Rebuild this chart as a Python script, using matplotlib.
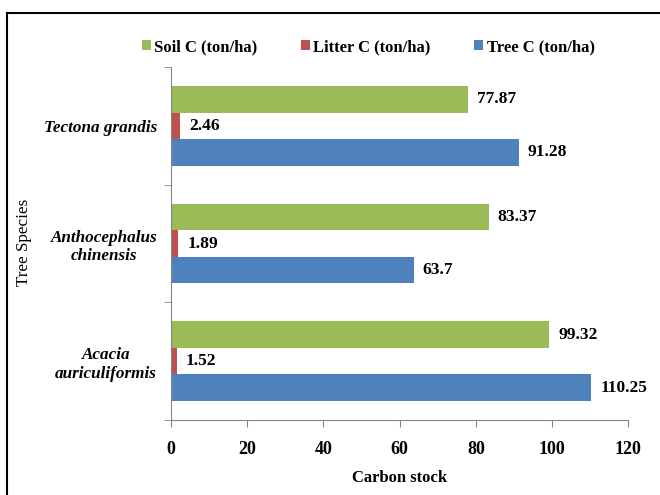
import matplotlib.pyplot as plt
import numpy as np
from matplotlib.lines import Line2D

species = ["Acacia\nauriculiformis", "Anthocephalus\nchinensis", "Tectona grandis"]
tree_c = [110.25, 63.7, 91.28]
litter_c = [1.52, 1.89, 2.46]
soil_c = [99.32, 83.37, 77.87]
tree_lbl = ["110.25", "63.7", "91.28"]
litter_lbl = ["1.52", "1.89", "2.46"]
soil_lbl = ["99.32", "83.37", "77.87"]

plt.rcParams["font.family"] = ["Liberation Serif", "DejaVu Serif"]

fig = plt.figure(figsize=(6.6, 4.95), dpi=100)
ax = fig.add_axes([0.259, 0.1515, 0.693, 0.713])

y = np.arange(len(species))
h = 0.225
series = [
    (soil_c, soil_lbl, "#9BBB59", "Soil C (ton/ha)", h),
    (litter_c, litter_lbl, "#C0504D", "Litter C (ton/ha)", 0),
    (tree_c, tree_lbl, "#4F81BD", "Tree C (ton/ha)", -h),
]
for vals, lbls, col, name, off in series:
    bars = ax.barh(y + off, vals, height=h, color=col, label=name)
    ax.bar_label(bars, labels=lbls, padding=6.5, fontsize=12.5, fontweight="bold")

ax.set_xlim(0, 120)
ax.set_ylim(-0.5, 2.5)
ax.set_xticks(np.arange(0, 121, 20))
ax.set_yticks(y)
ax.set_yticklabels(species, fontsize=12.3, fontweight="bold", style="italic",
                   multialignment="center")
ax.set_yticks([-0.5, 0.5, 1.5, 2.5], minor=True)
ax.tick_params(axis="y", which="major", length=0, pad=10)
ax.tick_params(axis="y", which="minor", length=5, color="#868686")
ax.tick_params(axis="x", length=5, color="#868686", pad=10, labelsize=13)
for t in ax.get_xticklabels():
    t.set_fontweight("bold")

for s in ["top", "right"]:
    ax.spines[s].set_visible(False)
for s in ["left", "bottom"]:
    ax.spines[s].set_color("#868686")

ax.set_xlabel("Carbon stock", fontsize=12, fontweight="bold", labelpad=9)
fig.text(0.036, 0.51, "Tree Species", rotation=90, fontsize=12.3,
         ha="center", va="center")

handles, labels = ax.get_legend_handles_labels()
fig.legend(handles, labels, loc="center", bbox_to_anchor=(0.558, 0.905), ncol=3,
           frameon=False, prop={"size": 12, "weight": "bold"},
           handlelength=0.55, handleheight=0.55, handletextpad=0.2,
           columnspacing=2.6)

# outer frame edges
fig.add_artist(Line2D([0.011, 0.011], [0.0, 0.974], color="black", lw=1.5))
fig.add_artist(Line2D([0.011, 1.0], [0.974, 0.974], color="black", lw=1.5))

fig.savefig("out.png", dpi=100)
